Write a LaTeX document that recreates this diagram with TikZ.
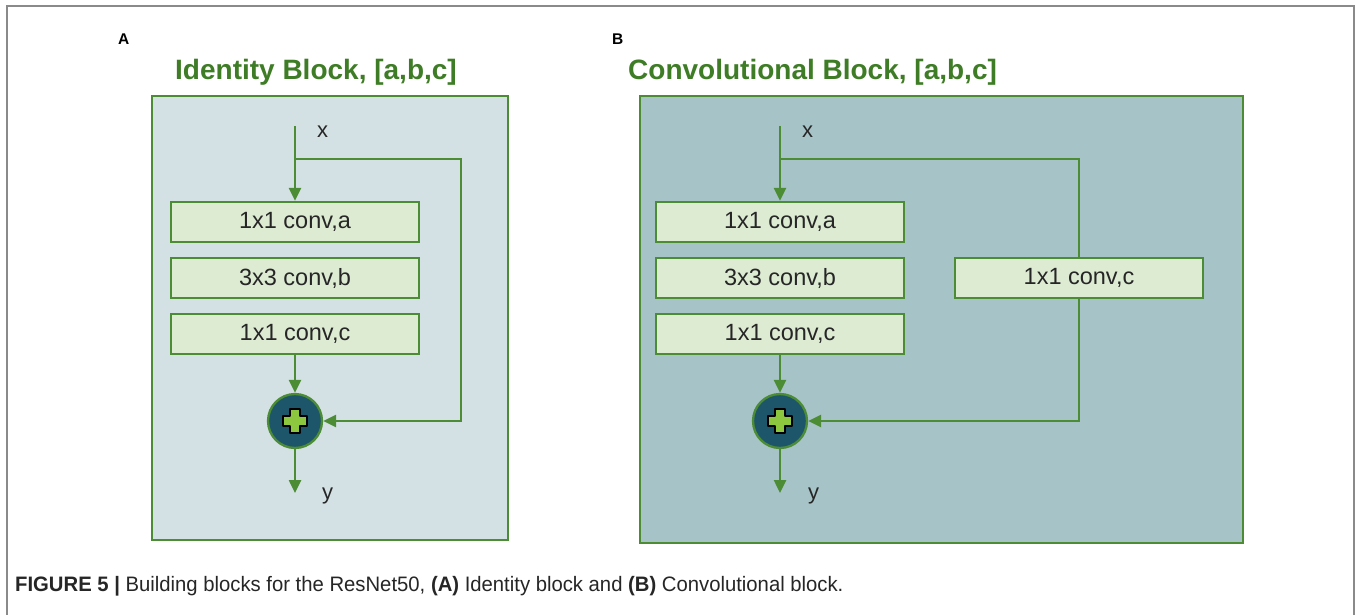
\documentclass[tikz,border=0pt]{standalone}
\usepackage{fontspec}
\setmainfont{Liberation Sans}
\newfontfamily\capfont[FakeStretch=0.97]{Liberation Sans}
\usetikzlibrary{arrows.meta}
\definecolor{lgreen}{HTML}{4C8C35}
\definecolor{tgreen}{HTML}{3E7D26}
\definecolor{panelA}{HTML}{D3E1E4}
\definecolor{panelB}{HTML}{A6C3C8}
\definecolor{boxfill}{HTML}{DDEBD3}
\definecolor{circfill}{HTML}{1D566A}
\definecolor{plusfill}{HTML}{8DC63F}
\definecolor{framegrey}{HTML}{8A8A8A}
\tikzset{
  panelbox/.style={draw=lgreen, line width=2.3pt, inner sep=0pt},
  convbox/.style={draw=lgreen, fill=boxfill, line width=2.3pt, minimum width=248pt, minimum height=40pt, inner sep=0pt, font=\fontsize{23.5}{27}\selectfont, text=black!85},
  sumnode/.style={circle, draw=lgreen, fill=circfill, line width=2.3pt, minimum size=54pt, inner sep=0pt},
  conn/.style={draw=lgreen, line width=2.5pt},
  arr/.style={conn, -{Triangle[length=13pt, width=12pt]}},
  lbl/.style={font=\fontsize{22}{26}\selectfont, text=black!85, inner sep=0pt, anchor=base west},
  ttl/.style={font=\fontsize{28}{32}\selectfont\bfseries, text=tgreen, inner sep=0pt, anchor=base west},
  panlbl/.style={font=\fontsize{15.5}{18}\selectfont\bfseries, inner sep=0pt, anchor=base west},
  plusshape/.style={fill=plusfill, draw=black, line width=1.4pt, line join=round}
}
\begin{document}
\begin{tikzpicture}[x=1pt, y=-1pt]
\useasboundingbox (0,0) rectangle (1357,615);
\fill[white] (0,0) rectangle (1357,615);
% outer frame
\draw[framegrey, line width=1.6pt] (7,620) -- (7,6) -- (1354,6) -- (1354,620);

% labels
\node[panlbl] (labA) at (118,45) {A};
\node[panlbl] (labB) at (612,45) {B};
\node[ttl] (titleA) at (175,80) {Identity Block, [a,b,c]};
\node[ttl] (titleB) at (628,80) {Convolutional Block, [a,b,c]};

% panels
\node[panelbox, fill=panelA, minimum width=356pt, minimum height=444pt] (pA) at (330,318) {};
\node[panelbox, fill=panelB, minimum width=603pt, minimum height=447pt] (pB) at (941.5,319.5) {};

% ---------- Panel A ----------
\coordinate (inA) at (295,126);
\coordinate (brA) at (295,159);
\coordinate (rtA) at (461,159);
\coordinate (rbA) at (461,421);
\coordinate (outA) at (295,493);
\node[convbox] (a1) at (295,222) {1x1 conv,a};
\node[convbox] (a2) at (295,278) {3x3 conv,b};
\node[convbox] (a3) at (295,334) {1x1 conv,c};
\node[sumnode] (sA) at (295,421) {};
\begin{scope}[shift={(sA.center)}]
\draw[plusshape] (-5,-12) -- (5,-12) -- (5,-5) -- (12,-5) -- (12,5) -- (5,5) -- (5,12) -- (-5,12) -- (-5,5) -- (-12,5) -- (-12,-5) -- (-5,-5) -- cycle;
\end{scope}
\draw[arr] (inA) -- (a1.north);
\draw[arr] (brA) -- (rtA) -- (rbA) -- (sA.east);
\draw[arr] (a3.south) -- (sA.north);
\draw[arr] (sA.south) -- (outA);
\node[lbl] (xA) at (317,138) {x};
\node[lbl] (yA) at (322,499) {y};

% ---------- Panel B ----------
\coordinate (inB) at (780,126);
\coordinate (brB) at (780,159);
\coordinate (rtB) at (1079,159);
\coordinate (rbB) at (1079,421);
\coordinate (outB) at (780,493);
\node[convbox] (b1) at (780,222) {1x1 conv,a};
\node[convbox] (b2) at (780,278) {3x3 conv,b};
\node[convbox] (b3) at (780,334) {1x1 conv,c};
\node[convbox] (bs) at (1079,278) {1x1 conv,c};
\node[sumnode] (sB) at (780,421) {};
\begin{scope}[shift={(sB.center)}]
\draw[plusshape] (-5,-12) -- (5,-12) -- (5,-5) -- (12,-5) -- (12,5) -- (5,5) -- (5,12) -- (-5,12) -- (-5,5) -- (-12,5) -- (-12,-5) -- (-5,-5) -- cycle;
\end{scope}
\draw[arr] (inB) -- (b1.north);
\draw[conn] (brB) -- (rtB) -- (bs.north);
\draw[arr] (bs.south) -- (rbB) -- (sB.east);
\draw[arr] (b3.south) -- (sB.north);
\draw[arr] (sB.south) -- (outB);
\node[lbl] (xB) at (802,138) {x};
\node[lbl] (yB) at (808,499) {y};

% caption
\node[inner sep=0pt, anchor=base west, font=\capfont\fontsize{20.9}{24}\selectfont, text=black!85] (cap) at (15,591) {\textbf{FIGURE 5 |} Building blocks for the ResNet50, \textbf{(A)} Identity block and \textbf{(B)} Convolutional block.};
\end{tikzpicture}
\end{document}
